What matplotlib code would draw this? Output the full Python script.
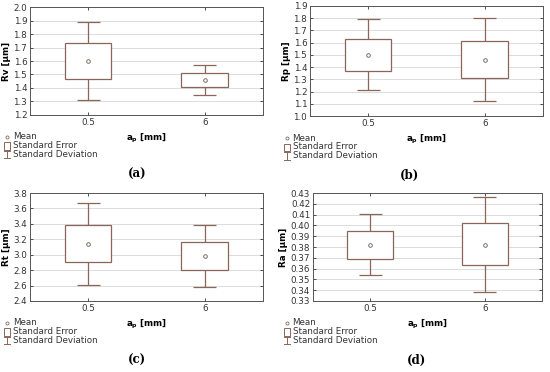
import numpy as np
import matplotlib.pyplot as plt
from matplotlib.patches import Rectangle
from matplotlib.lines import Line2D

# -------- DATA --------
categories = ["0.5", "6"]

rv_mean = [1.60, 1.46]
rv_se = [(1.47, 1.73), (1.41, 1.51)]
rv_sd = [(1.31, 1.89), (1.35, 1.57)]

rp_mean = [1.50, 1.46]
rp_se = [(1.37, 1.63), (1.31, 1.61)]
rp_sd = [(1.21, 1.79), (1.12, 1.80)]

rt_mean = [3.14, 2.98]
rt_se = [(2.90, 3.38), (2.80, 3.16)]
rt_sd = [(2.61, 3.67), (2.58, 3.38)]

ra_mean = [0.382, 0.382]
ra_se = [(0.369, 0.395), (0.363, 0.402)]
ra_sd = [(0.354, 0.411), (0.338, 0.426)]

panels = [
    ("Rv [µm]", rv_mean, rv_se, rv_sd, (1.2, 2.0), np.arange(1.2, 2.01, 0.1), "%.1f", "(a)"),
    ("Rp [µm]", rp_mean, rp_se, rp_sd, (1.0, 1.9), np.arange(1.0, 1.91, 0.1), "%.1f", "(b)"),
    ("Rt [µm]", rt_mean, rt_se, rt_sd, (2.4, 3.8), np.arange(2.4, 3.81, 0.2), "%.1f", "(c)"),
    ("Ra [µm]", ra_mean, ra_se, ra_sd, (0.33, 0.43), np.arange(0.33, 0.4301, 0.01), "%.2f", "(d)"),
]

# axes positions [left, bottom, width, height] in figure fraction
positions = [
    [0.0545, 0.691, 0.4235, 0.290],
    [0.5636, 0.688, 0.4234, 0.296],
    [0.0545, 0.191, 0.4235, 0.290],
    [0.5690, 0.191, 0.4165, 0.290],
]
caption_x = [0.249, 0.745, 0.249, 0.758]
legend_x = [0.013, 0.522, 0.013, 0.522]

box_col = "#8a6658"
mean_col = "#7d6e68"
fs = 6.3

fig = plt.figure(figsize=(5.5, 3.72), dpi=100)

for i, (ylab, mean, se, sd, ylim, yticks, fmt, cap) in enumerate(panels):
    ax = fig.add_axes(positions[i])
    x = np.arange(len(categories))
    ax.set_xlim(-0.5, 1.5)
    ax.set_ylim(*ylim)
    ax.set_yticks(yticks)
    ax.set_yticklabels([fmt % v for v in yticks])
    ax.set_xticks(x)
    ax.set_xticklabels(categories)
    ax.grid(axis="y", color="#dcdcdc", linewidth=0.7)
    ax.set_axisbelow(True)
    ax.tick_params(labelsize=fs, direction="in", length=2, width=0.6,
                   right=True, top=True, colors="#333333", pad=2)
    for s in ax.spines.values():
        s.set_color("#555555")
        s.set_linewidth(0.7)

    for j in x:
        lo, hi = se[j]
        dlo, dhi = sd[j]
        ax.add_patch(Rectangle((j - 0.2, lo), 0.4, hi - lo, facecolor="white",
                               edgecolor=box_col, linewidth=0.9, zorder=3))
        ax.vlines(j, dlo, lo, color=box_col, linewidth=0.9, zorder=3)
        ax.vlines(j, hi, dhi, color=box_col, linewidth=0.9, zorder=3)
        ax.hlines([dlo, dhi], j - 0.1, j + 0.1, color=box_col, linewidth=0.9, zorder=3)
        ax.plot(j, mean[j], marker="o", markersize=2.6, markerfacecolor="white",
                markeredgecolor=mean_col, markeredgewidth=0.7, zorder=4)

    ax.set_ylabel(ylab, fontsize=fs, fontweight="bold", labelpad=2)
    ax.set_xlabel(r"$\mathbf{a_p}$ [mm]", fontsize=fs, fontweight="bold", labelpad=4)

    # legend drawn below the axes
    l, b, w, h = positions[i]
    base_y = b - 0.059
    lx = legend_x[i]
    dy = 0.024
    fig.add_artist(Line2D([lx], [base_y], marker="o", markersize=2.2,
                          markerfacecolor="white", markeredgecolor=mean_col,
                          markeredgewidth=0.6, transform=fig.transFigure))
    fig.text(lx + 0.010, base_y, "Mean", fontsize=fs, va="center", color="#333333")
    fig.add_artist(Rectangle((lx - 0.005, base_y - dy - 0.010), 0.010, 0.019,
                             facecolor="white", edgecolor=box_col, linewidth=0.7,
                             transform=fig.transFigure))
    fig.text(lx + 0.010, base_y - dy, "Standard Error", fontsize=fs, va="center", color="#333333")
    yd = base_y - 2 * dy
    fig.add_artist(Line2D([lx, lx], [yd - 0.010, yd + 0.010],
                          color=box_col, linewidth=0.7, transform=fig.transFigure))
    fig.add_artist(Line2D([lx - 0.005, lx + 0.005], [yd + 0.010, yd + 0.010],
                          color=box_col, linewidth=0.7, transform=fig.transFigure))
    fig.add_artist(Line2D([lx - 0.005, lx + 0.005], [yd - 0.010, yd - 0.010],
                          color=box_col, linewidth=0.7, transform=fig.transFigure))
    fig.text(lx + 0.010, yd, "Standard Deviation", fontsize=fs, va="center", color="#333333")

    # caption
    fig.text(caption_x[i], b - 0.159, cap, fontsize=8.5, fontweight="bold",
             family="DejaVu Serif", ha="center", va="center")

fig.savefig("out.png", dpi=100)
